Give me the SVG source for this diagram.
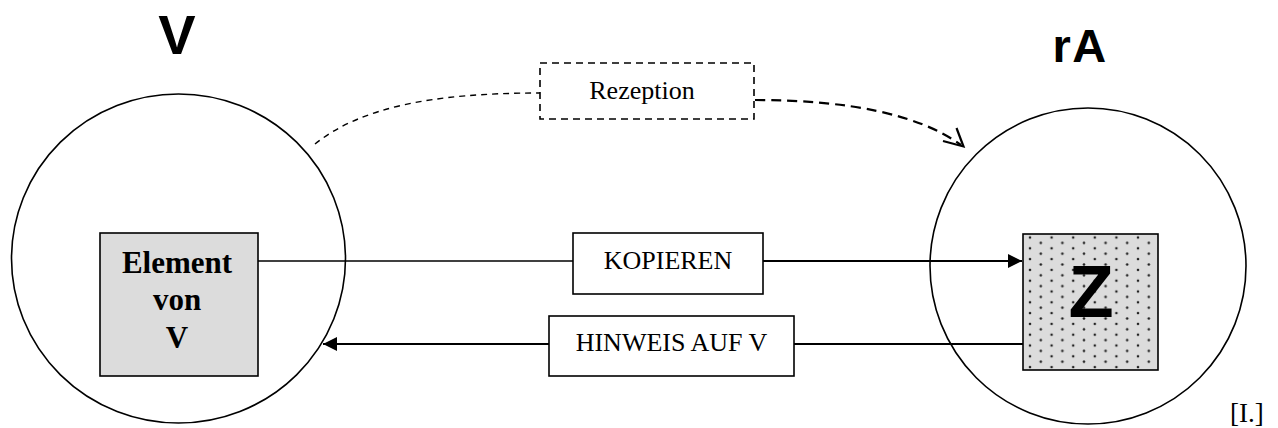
<svg xmlns="http://www.w3.org/2000/svg" width="1278" height="428" viewBox="0 0 1278 428">
<style>
.circ{fill:none;stroke:#000;stroke-width:1.6}
.box{fill:#fff;stroke:#000;stroke-width:1.6}
.serif{font-family:"Liberation Serif","Times New Roman",serif;fill:#000}
.sans{font-family:"Liberation Sans",Arial,sans-serif;font-weight:bold;fill:#000}
.thin{fill:none;stroke:#000;stroke-width:1.4}
.thick{fill:none;stroke:#000;stroke-width:2.2}
</style>
<defs>
<pattern id="dots" x="1030" y="237.5" width="21.6" height="10.8" patternUnits="userSpaceOnUse">
<circle cx="0" cy="0" r="1.3" fill="#222"/>
<circle cx="21.6" cy="0" r="1.3" fill="#222"/>
<circle cx="0" cy="10.8" r="1.3" fill="#222"/>
<circle cx="21.6" cy="10.8" r="1.3" fill="#222"/>
<circle cx="10.8" cy="5.4" r="1.3" fill="#222"/>
</pattern>
<marker id="ah" viewBox="0 0 14 14" refX="14" refY="7" markerWidth="14" markerHeight="14" markerUnits="userSpaceOnUse" orient="auto">
<path d="M0,0 L14,7 L0,14 Z" fill="#000"/>
</marker>
</defs>

<g id="title-V"><text class="sans" x="177" y="54" font-size="56" text-anchor="middle">V</text></g>
<g id="title-rA"><text class="sans" x="1080" y="62" font-size="47" text-anchor="middle" letter-spacing="1.5">rA</text></g>

<g id="circle-V"><ellipse class="circ" cx="178.5" cy="258.5" rx="167" ry="164.5"/></g>
<g id="circle-rA"><circle class="circ" cx="1088" cy="266" r="158"/></g>

<g id="element-von-V">
<rect x="100" y="233" width="158" height="143" fill="#dcdcdc" stroke="#000" stroke-width="1.6"/>
<text class="serif" font-weight="bold" font-size="31" text-anchor="middle"><tspan x="177" y="273">Element</tspan><tspan x="177" y="310">von</tspan><tspan x="177" y="348">V</tspan></text>
</g>

<g id="Z">
<rect x="1023" y="234" width="135" height="136" fill="#dcdcdc"/>
<rect x="1023" y="234" width="135" height="136" fill="url(#dots)" stroke="#000" stroke-width="1.6"/>
<text class="sans" x="1091" y="317" font-size="74" text-anchor="middle">Z</text>
</g>

<g id="connectors">
<line class="thin" x1="258" y1="261" x2="573" y2="261"/>
<line class="thick" x1="763" y1="261" x2="1022" y2="261" marker-end="url(#ah)"/>
<line class="thick" x1="1023" y1="344" x2="794" y2="344"/>
<line class="thick" x1="549" y1="344" x2="323" y2="344" marker-end="url(#ah)"/>
<path class="thin" d="M315,144 C360,108 430,93 540,93" stroke-dasharray="6,5"/>
<path class="thick" d="M755,100 C850,100 920,115 961,145" stroke-dasharray="10,6"/>
<polyline class="thick" points="956.5,128 963.5,146.5 943,141"/>
</g>

<g id="rezeption">
<rect x="540" y="63" width="214" height="56" fill="#fff" stroke="#000" stroke-width="1.6" stroke-dasharray="7,5"/>
<text class="serif" x="642" y="99" font-size="26" text-anchor="middle">Rezeption</text>
</g>

<g id="kopieren">
<rect class="box" x="573" y="233" width="190" height="61"/>
<text class="serif" x="668" y="269" font-size="26" text-anchor="middle">KOPIEREN</text>
</g>

<g id="hinweis">
<rect class="box" x="549" y="316" width="245" height="60"/>
<text class="serif" x="671.5" y="351" font-size="26" text-anchor="middle">HINWEIS AUF V</text>
</g>

<g id="label-I"><text class="serif" x="1230" y="422" font-size="27">[I.]</text></g>
</svg>
